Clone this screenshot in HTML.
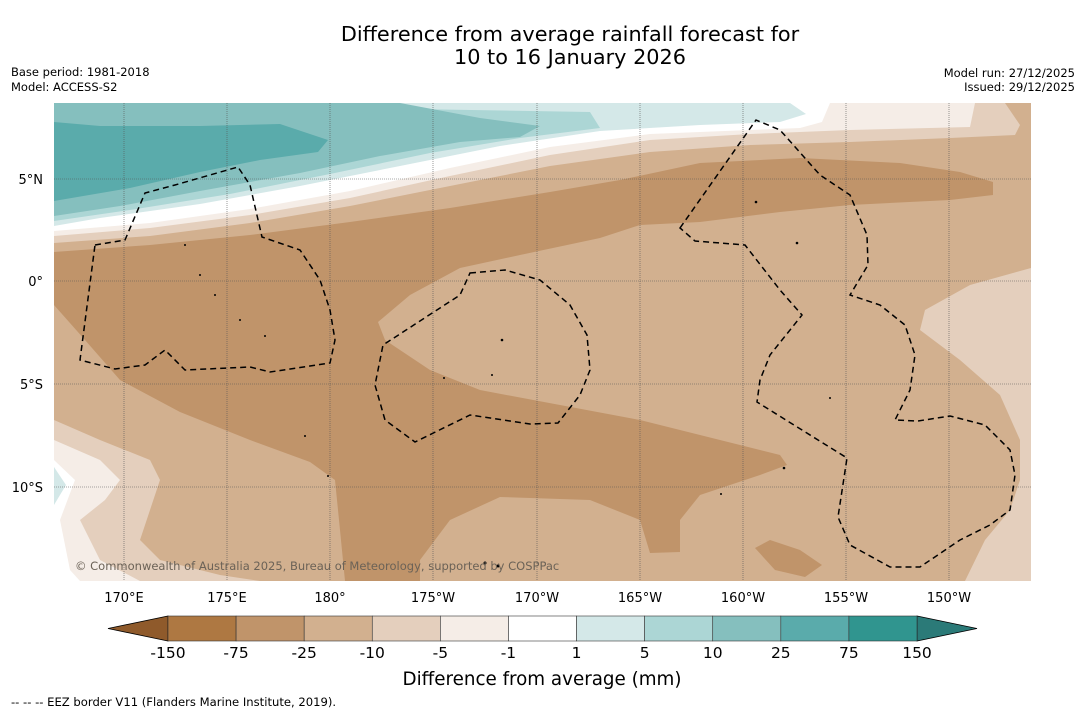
<!DOCTYPE html>
<html><head><meta charset="utf-8"><style>
body{margin:0;background:#fff;font-family:"Liberation Sans","DejaVu Sans",sans-serif;}
svg text{font-family:"DejaVu Sans","Liberation Sans",sans-serif;}
</style></head><body>
<svg width="1085" height="713" viewBox="0 0 1085 713" xmlns="http://www.w3.org/2000/svg">
<rect width="1085" height="713" fill="#fff"/>
<text x="570" y="41" font-size="20.8" text-anchor="middle">Difference from average rainfall forecast for</text>
<text x="570" y="64" font-size="20.8" text-anchor="middle">10 to 16 January 2026</text>
<text x="11" y="76" font-size="11.5">Base period: 1981-2018</text>
<text x="11" y="91" font-size="11.5">Model: ACCESS-S2</text>
<text x="1075" y="77" font-size="11.5" text-anchor="end">Model run: 27/12/2025</text>
<text x="1075" y="91" font-size="11.5" text-anchor="end">Issued: 29/12/2025</text>

<defs><clipPath id="mc"><rect x="54" y="103" width="977" height="478"/></clipPath></defs>
<g clip-path="url(#mc)">
<rect x="54" y="103" width="977" height="478" fill="#d2b08f"/>
<path fill="#e4cfbd" d="M1031,268 L970,285 L925,310 L920,330 L960,360 L1000,395 L1020,440 L1020,480 L1010,510 L985,540 L965,581 L1031,581Z"/>
<path fill="#c0946a" d="M54,252 L150,245 L250,235 L350,222 L450,208 L550,192 L620,180 L700,163 L800,158 L900,163 L960,172 L993,182 L993,195 L950,200 L850,205 L780,212 L700,222 L640,225 L600,238 L520,255 L460,268 L410,295 L378,322 L385,340 L430,370 L480,390 L560,405 L640,420 L720,440 L780,455 L787,465 L760,475 L700,495 L680,520 L680,552 L650,553 L640,520 L590,500 L500,497 L450,520 L420,560 L420,581 L345,581 L340,530 L335,480 L310,462 L250,440 L180,412 L120,380 L85,340 L54,305Z"/>
<path fill="#c0946a" d="M755,548 L770,540 L800,550 L822,565 L805,577 L775,570Z"/>
<path fill="#e4cfbd" d="M54,420 L100,440 L150,460 L160,480 L150,510 L140,540 L160,560 L220,575 L260,581 L54,581Z"/>
<path fill="#f5ede7" d="M54,440 L100,460 L120,480 L105,500 L80,520 L100,560 L140,581 L54,581Z"/>
<path fill="#fff" d="M54,460 L75,480 L60,520 L70,570 L80,581 L54,581Z"/>
<path fill="#d4e8e8" d="M54,467 L66,485 L54,505Z"/>
<path fill="#d2b08f" d="M995,103 L1031,103 L1031,140 L1000,135Z"/>
<path fill="#e4cfbd" d="M54,103 L1005,103 L1020,125 L1015,135 L950,138 L850,142 L750,145 L650,152 L550,166 L450,186 L350,206 L250,223 L150,236 L54,243Z"/>
<path fill="#f5ede7" d="M54,103 L975,103 L970,127 L850,130 L750,134 L650,140 L550,155 L450,176 L350,198 L250,215 L150,228 L54,236Z"/>
<path fill="#fff" d="M54,103 L830,103 L822,122 L800,128 L750,130 L650,134 L550,147 L450,168 L350,191 L250,209 L150,223 L54,231Z"/>
<path fill="#d4e8e8" d="M54,103 L790,103 L806,114 L780,122 L700,125 L600,131 L500,146 L400,166 L300,186 L200,204 L100,218 L54,226Z"/>
<path fill="#acd6d5" d="M54,103 L590,112 L600,128 L520,138 L430,153 L330,174 L230,194 L130,210 L54,221Z"/>
<path fill="#85bfbe" d="M54,103 L400,103 L480,118 L540,126 L520,137 L460,142 L380,156 L300,173 L200,191 L120,206 L54,216Z"/>
<path fill="#5aabab" d="M54,122 L100,126 L200,126 L280,124 L328,140 L318,152 L260,160 L200,172 L130,188 L54,201Z"/>
<g stroke="#555" stroke-width="0.6" stroke-dasharray="1,1">
<line x1="124" y1="103" x2="124" y2="581"/><line x1="227" y1="103" x2="227" y2="581"/><line x1="330" y1="103" x2="330" y2="581"/><line x1="433" y1="103" x2="433" y2="581"/><line x1="537" y1="103" x2="537" y2="581"/><line x1="640" y1="103" x2="640" y2="581"/><line x1="743" y1="103" x2="743" y2="581"/><line x1="846" y1="103" x2="846" y2="581"/><line x1="949" y1="103" x2="949" y2="581"/>
<line x1="54" y1="179" x2="1031" y2="179"/><line x1="54" y1="281" x2="1031" y2="281"/><line x1="54" y1="384" x2="1031" y2="384"/><line x1="54" y1="487" x2="1031" y2="487"/>
</g>
<g fill="none" stroke="#000" stroke-width="1.5" stroke-dasharray="6,4">
<path d="M95,245 L125,240 L145,193 L175,185 L238,167 L250,185 L262,237 L300,250 L320,280 L330,310 L335,340 L330,363 L270,372 L250,367 L185,370 L165,350 L145,365 L115,369 L80,360 Z"/>
<path d="M470,273 L505,270 L540,280 L570,305 L587,335 L590,370 L580,395 L558,423 L530,424 L470,415 L415,442 L385,420 L375,385 L383,345 L460,295 Z"/>
<path d="M680,228 L756,120 L780,130 L820,175 L850,195 L867,235 L868,265 L850,295 L880,305 L905,325 L915,355 L910,390 L895,420 L918,421 L950,416 L985,425 L1010,450 L1015,475 L1010,510 L990,525 L960,540 L920,567 L890,567 L850,545 L838,517 L847,458 L757,402 L760,380 L770,355 L802,315 L780,290 L745,245 L695,241 Z"/>
</g>
<g fill="#000">
<circle cx="185" cy="245" r="1"/><circle cx="200" cy="275" r="1"/><circle cx="215" cy="295" r="1"/><circle cx="240" cy="320" r="1"/><circle cx="265" cy="336" r="1"/><circle cx="502" cy="340" r="1.3"/><circle cx="444" cy="378" r="1"/><circle cx="492" cy="375" r="1"/><circle cx="756" cy="202" r="1.3"/><circle cx="797" cy="243" r="1.3"/><circle cx="784" cy="468" r="1.3"/><circle cx="721" cy="494" r="1"/><circle cx="830" cy="398" r="1"/><circle cx="305" cy="436" r="1"/><circle cx="328" cy="476" r="1"/><circle cx="485" cy="563" r="1.5"/><circle cx="498" cy="566" r="1.5"/>
</g>
<text x="75" y="570" font-size="11.5" fill="#6b6257">© Commonwealth of Australia 2025, Bureau of Meteorology, supported by COSPPac</text>
</g>
<g font-size="13" fill="#000" text-anchor="middle">
<text x="124" y="602">170°E</text><text x="227" y="602">175°E</text><text x="330" y="602">180°</text><text x="433" y="602">175°W</text><text x="537" y="602">170°W</text><text x="640" y="602">165°W</text><text x="743" y="602">160°W</text><text x="846" y="602">155°W</text><text x="949" y="602">150°W</text>
</g>
<g font-size="13" fill="#000" text-anchor="end">
<text x="43" y="184">5°N</text><text x="43" y="286">0°</text><text x="43" y="389">5°S</text><text x="43" y="492">10°S</text>
</g>
<g id="cbar"></g>
<text x="542" y="685" font-size="18.3" text-anchor="middle">Difference from average (mm)</text>
<text x="11" y="706" font-size="11.6">--  --  -- EEZ border V11 (Flanders Marine Institute, 2019).</text>
</svg>
<script>
const levels = ["-150","-75","-25","-10","-5","-1","1","5","10","25","75","150"];
const binColors = ["#ae7842","#c0946a","#d2b08f","#e4cfbd","#f5ede7","#ffffff","#d4e8e8","#acd6d5","#85bfbe","#5aabab","#30958f"];
const extColors = ["#8f5a2b","#2b7a78"];
const NS="http://www.w3.org/2000/svg";
const g=document.getElementById('cbar');
const x0=168,x1=917,y0=616,h=25;
const w=(x1-x0)/binColors.length;
function mk(tag,attrs){const e=document.createElementNS(NS,tag);for(const k in attrs)e.setAttribute(k,attrs[k]);g.appendChild(e);return e;}
const lt=mk('polygon',{points:`108,${y0+h/2} ${x0},${y0} ${x0},${y0+h}`,fill:extColors[0],stroke:'#000','stroke-width':0.8});


const rt=mk('polygon',{points:`977,${y0+h/2} ${x1},${y0} ${x1},${y0+h}`,fill:extColors[1],stroke:'#000','stroke-width':0.8});


binColors.forEach((c,i)=>{
  const r=mk('rect',{x:x0+i*w,y:y0,width:w,height:h,fill:c,stroke:'#333','stroke-width':0.6});
  
  
});
levels.forEach((l,i)=>{
  const t=mk('text',{x:x0+i*w,y:658,'font-size':15.5,'text-anchor':'middle'});
  t.textContent=l;
  
  
});
</script>
</body></html>
